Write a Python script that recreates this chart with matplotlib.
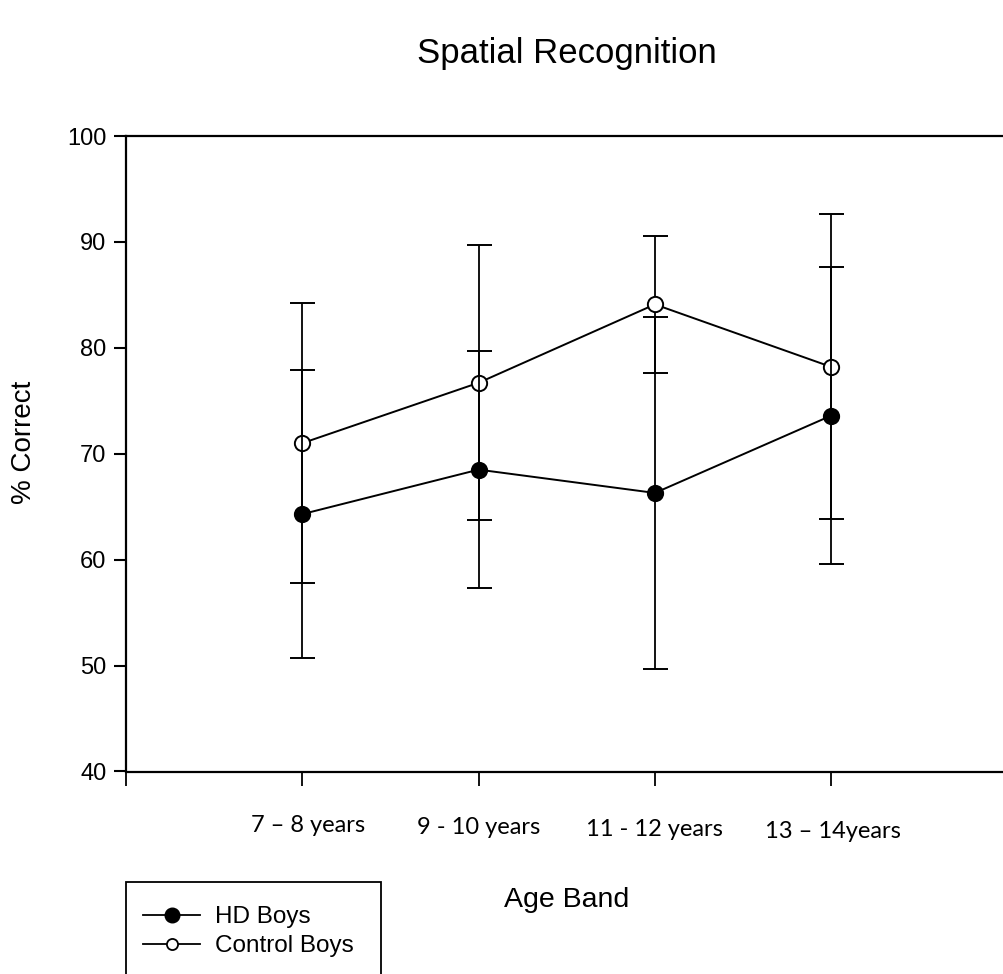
import matplotlib
matplotlib.use("Agg")
import matplotlib.pyplot as plt
from matplotlib.transforms import blended_transform_factory
from matplotlib.patches import Rectangle
from matplotlib.lines import Line2D

# ---- data ----
age_bands = ["7 \u2013 8 years", "9 - 10 years", "11 - 12 years", "13 \u2013 14years"]
positions = [1, 2, 3, 4]
hd_mean = [64.3, 68.5, 66.3, 73.6]
hd_err = [13.6, 11.2, 16.6, 14.0]
ctrl_mean = [71.0, 76.7, 84.1, 78.2]
ctrl_err = [13.2, 13.0, 6.5, 14.4]
y_ticks = [40, 50, 60, 70, 80, 90, 100]
series_names = ["HD Boys", "Control Boys"]

W, H = 1004, 974
fig = plt.figure(figsize=(W / 100, H / 100), dpi=100)
plt.rcParams['font.family'] = ['Liberation Sans', 'DejaVu Sans']

left, right, top, bottom = 126, 1007.5, 136, 771.5
ax = fig.add_axes([left / W, 1 - bottom / H, (right - left) / W, (bottom - top) / H])

eb_kw = dict(color='black', linewidth=1.4, elinewidth=1.3, capsize=9, capthick=1.5,
             markersize=11, markeredgewidth=1.4, markeredgecolor='black')
ax.errorbar(positions, ctrl_mean, yerr=ctrl_err, marker='o', markerfacecolor='white',
            zorder=3, **eb_kw)
ax.errorbar(positions, hd_mean, yerr=hd_err, marker='o', markerfacecolor='black',
            zorder=4, **eb_kw)

ax.set_xlim(0, 5)
ax.set_ylim(40, 100)
ax.set_yticks(y_ticks)
ax.set_xticks([0, 1, 2, 3, 4, 5])
ax.set_xticklabels([])
ax.tick_params(axis='y', labelsize=17, length=9, width=1.5, direction='out', pad=5)
ax.tick_params(axis='x', length=10, width=1.3, direction='out')
for s in ['left', 'bottom', 'top']:
    ax.spines[s].set_linewidth(1.6)
ax.spines['right'].set_visible(False)

# x category labels (Calibri-like font, placed below axis)
trans = blended_transform_factory(ax.transData, fig.transFigure)
label_y = [825, 827, 829, 831]
label_x = [1.03, 2.0, 3.0, 4.01]
for xx, yy, txt in zip(label_x, label_y, age_bands):
    ax.text(xx, 1 - yy / H, txt, transform=trans, ha='center', va='center',
            fontsize=17, family=['Lato', 'DejaVu Sans'])

fig.text(567 / W, 1 - 54 / H, "Spatial Recognition", ha='center', va='center', fontsize=25)
fig.text(567 / W, 1 - 900 / H, "Age Band", ha='center', va='center', fontsize=20.5)
fig.text(24 / W, 1 - 442 / H, "% Correct", ha='center', va='center', rotation=90, fontsize=20)

# legend
handles = [
    Line2D([], [], color='black', linewidth=1.3, marker='o', markersize=10.5,
           markerfacecolor='black', markeredgecolor='black'),
    Line2D([], [], color='black', linewidth=1.3, marker='o', markersize=8,
           markerfacecolor='white', markeredgecolor='black', markeredgewidth=1.3),
]
fig.legend(handles, series_names,
           loc='upper left', bbox_to_anchor=(143 / W, 1 - 906 / H),
           frameon=False, fontsize=17.5, handlelength=2.35, handletextpad=0.6,
           labelspacing=0.3, borderpad=0, borderaxespad=0)
fig.patches.append(Rectangle((126 / W, 1 - 1000 / H), (381 - 126) / W, (1000 - 882) / H,
                             transform=fig.transFigure, fill=False, edgecolor='black',
                             linewidth=1.3, clip_on=False))

fig.savefig("out.png", dpi=100)
